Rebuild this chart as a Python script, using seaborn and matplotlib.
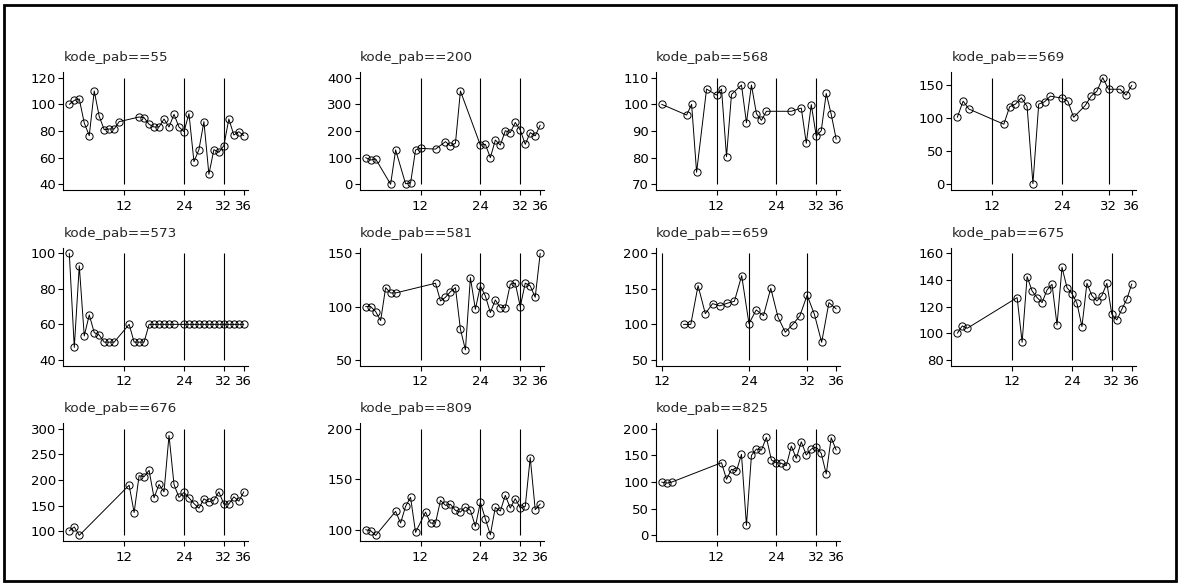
import numpy as np
import pandas as pd
import matplotlib
matplotlib.use('Agg')
import matplotlib.pyplot as plt
from matplotlib.patches import Rectangle
import seaborn as sns

'''                  Data (read off the picture)                  '''
m55 = [1, 2, 3, 4, 5, 6, 7, 8, 9, 10, 11] + list(range(15, 37))
v55 = [100, 103, 104, 86, 76.5, 110, 91, 81, 81.5, 81.5, 87,
       90.5, 90, 85, 83, 83, 89, 83, 92.5, 83, 79.5,
       93, 57, 66, 87, 47.5, 66, 64, 69, 89, 77, 79.5, 76.5]
t55 = [40, 60, 80, 100, 120]

m200 = [1, 2, 3, 6, 7, 9, 10, 11, 12, 15, 17, 18, 19, 20] + list(range(24, 37))
v200 = [100, 91, 95, 0, 129, 2, 5, 129, 135, 132, 160, 144, 154, 350,
        147, 150, 100, 166, 147, 201, 194, 232, 204, 150, 194, 182, 222]
t200 = [0, 100, 200, 300, 400]

m568 = [1, 6, 7, 8, 10, 12, 13, 14, 15, 17, 18, 19, 20, 21, 22, 27, 29, 30, 31, 32, 33, 34, 35, 36]
v568 = [100, 96, 100, 74.5, 105.75, 103.5, 105.75, 80.4, 103.75, 107.25, 93.1, 107.25,
        96.5, 94, 97.4, 97.4, 98.6, 85.4, 99.9, 88.1, 90.1, 104.1, 96.25, 86.9]
t568 = [70, 80, 90, 100, 110]

m569 = [6, 7, 8, 14, 15, 16, 17, 18, 19, 20, 21, 22, 24, 25, 26, 28, 29, 30, 31, 32, 34, 35, 36]
v569 = [101.5, 126, 114, 91, 117.5, 121.5, 131, 118, 1, 121.5, 125, 133.5,
        130.5, 126, 101.5, 119.5, 133.5, 141, 161.5, 144, 144, 135, 150]
t569 = [0, 50, 100, 150]

m573 = list(range(1, 11)) + [13, 14, 15, 16] + list(range(17, 23)) + list(range(24, 37))
v573 = [100, 47, 93, 53.5, 65.3, 55.4, 54, 50, 50, 50,
        60, 50, 50, 50] + [60] * 6 + [60] * 13
t573 = [40, 60, 80, 100]

m581 = [1, 2, 3, 4, 5, 6, 7] + list(range(15, 37))
v581 = [100, 100, 95.3, 86.9, 117.8, 112.8, 112.8,
        121.9, 105.3, 108.75, 114, 117.8, 78.75, 59.4, 127.2, 97.5, 119.4,
        110, 94.4, 106.25, 99, 99, 121, 122, 100, 122, 119.4, 108.75, 150]
t581 = [50, 100, 150]

m659 = list(range(15, 37))
v659 = [100, 100, 154.5, 115, 129.2, 126, 129.7, 132.5, 168.6, 101, 120.3,
        112.3, 150.8, 110, 88.9, 99.7, 111.9, 141, 114.2, 74.8, 130.6, 121.7]
t659 = [50, 100, 150, 200]

m675 = [1, 2, 3] + list(range(13, 37))
v675 = [100, 105.5, 103.75,
        126.75, 93.25, 142.5, 131.75, 126.75, 123, 132.5, 136.75, 106.25, 149.5, 134.25, 129.75,
        122.5, 105, 137.5, 128.25, 124.25, 128.25, 137.5, 114.25, 110, 118, 125.5, 137]
t675 = [80, 100, 120, 140, 160]

m676 = [1, 2, 3] + list(range(13, 37))
v676 = [101, 108.5, 92,
        190, 136.6, 208.5, 206.5, 219, 165.4, 191.5, 177, 287, 191.5, 166, 175.8,
        165.4, 154.2, 145, 163.4, 157.5, 160.8, 177, 153, 153, 167.3, 158.8, 177]
t676 = [100, 150, 200, 250, 300]

m809 = [1, 2, 3, 7, 8, 9, 10, 11] + list(range(13, 37))
v809 = [100, 99, 94.4, 118.2, 106.6, 123.2, 132.1, 97.4,
        117.5, 106.6, 106.6, 129.1, 124.2, 125.2, 119.2, 117.5, 122.5, 119.2, 103.3, 127.2,
        110.9, 95, 122.2, 118.5, 134.1, 121.5, 130.8, 121.5, 123.2, 171.5, 119.9, 125.5]
t809 = [100, 150, 200]

m825 = [1, 2, 3] + list(range(13, 37))
v825 = [100, 98, 100,
        136.4, 105.3, 124, 121, 152, 18.7, 150.2, 162, 160, 183.8, 141.4, 136.4,
        135.2, 130.8, 167.6, 144.5, 175.7, 150.8, 162, 165.7, 153.9, 115.3, 183.2, 160]
t825 = [0, 50, 100, 150, 200]

codes = [55, 200, 568, 569, 573, 581, 659, 675, 676, 809, 825]
months = [m55, m200, m568, m569, m573, m581, m659, m675, m676, m809, m825]
values = [v55, v200, v568, v569, v573, v581, v659, v675, v676, v809, v825]
yticks = [t55, t200, t568, t569, t573, t581, t659, t675, t676, t809, t825]
xticks = [12, 24, 32, 36]
xlines = [12, 24, 32]

'''                  Plot                  '''
sns.set_style('ticks')
plt.rcParams['font.family'] = ['DejaVu Sans']

W, H = 1180, 585
fig = plt.figure(figsize=(W / 100, H / 100), dpi=100)
fig.patch.set_facecolor('white')

col_left = [69.3, 365.7, 661.7, 957.3]
row_top = [77.7, 253.3, 428.8]
scale_w, scale_h = 174.5, 106.6
padL, padR, padV = 6, 4, 5.6

for i, code in enumerate(codes):
    r, c = divmod(i, 4)
    lp = col_left[c] - padL
    wp = scale_w + padL + padR
    tp = row_top[r] - padV
    hp = scale_h + 2 * padV
    ax = fig.add_axes([lp / W, 1 - (tp + hp) / H, wp / W, hp / H])

    d = pd.DataFrame({'month': months[i], 'value': values[i]})
    sns.lineplot(data=d, x='month', y='value', ax=ax, color='black', lw=0.7,
                 marker='o', markersize=5.2, markerfacecolor='none',
                 markeredgecolor='black', markeredgewidth=0.7)

    xlo = min(months[i][0], 12)
    span = 36 - xlo
    ax.set_xlim(xlo - padL / scale_w * span, 36 + padR / scale_w * span)
    ylo = min(min(values[i]), yticks[i][0])
    yhi = max(max(values[i]), yticks[i][-1])
    ysp = yhi - ylo
    ax.set_ylim(ylo - padV / scale_h * ysp, yhi + padV / scale_h * ysp)
    ax.vlines(xlines, ylo, yhi, color='black', lw=0.8)

    ax.set_xticks(xticks)
    ax.set_yticks(yticks[i])
    ax.set_xlabel('')
    ax.set_ylabel('')
    ax.tick_params(axis='both', direction='out', length=3.6, width=0.8,
                   color='black', labelsize=9.5, labelcolor='black')
    ax.tick_params(axis='y', pad=1.5)
    ax.tick_params(axis='x', pad=3.5)
    sns.despine(ax=ax)
    for s in ['left', 'bottom']:
        ax.spines[s].set_linewidth(0.8)
        ax.spines[s].set_color('black')
    ax.set_title(f'kode_pab=={code}', loc='left', fontsize=9.7, pad=8)

fig.add_artist(Rectangle((4 / W, 4 / H), 1172 / W, 576 / H, transform=fig.transFigure,
                         fill=False, edgecolor='black', lw=2))

plt.savefig('out.png', dpi=100)
